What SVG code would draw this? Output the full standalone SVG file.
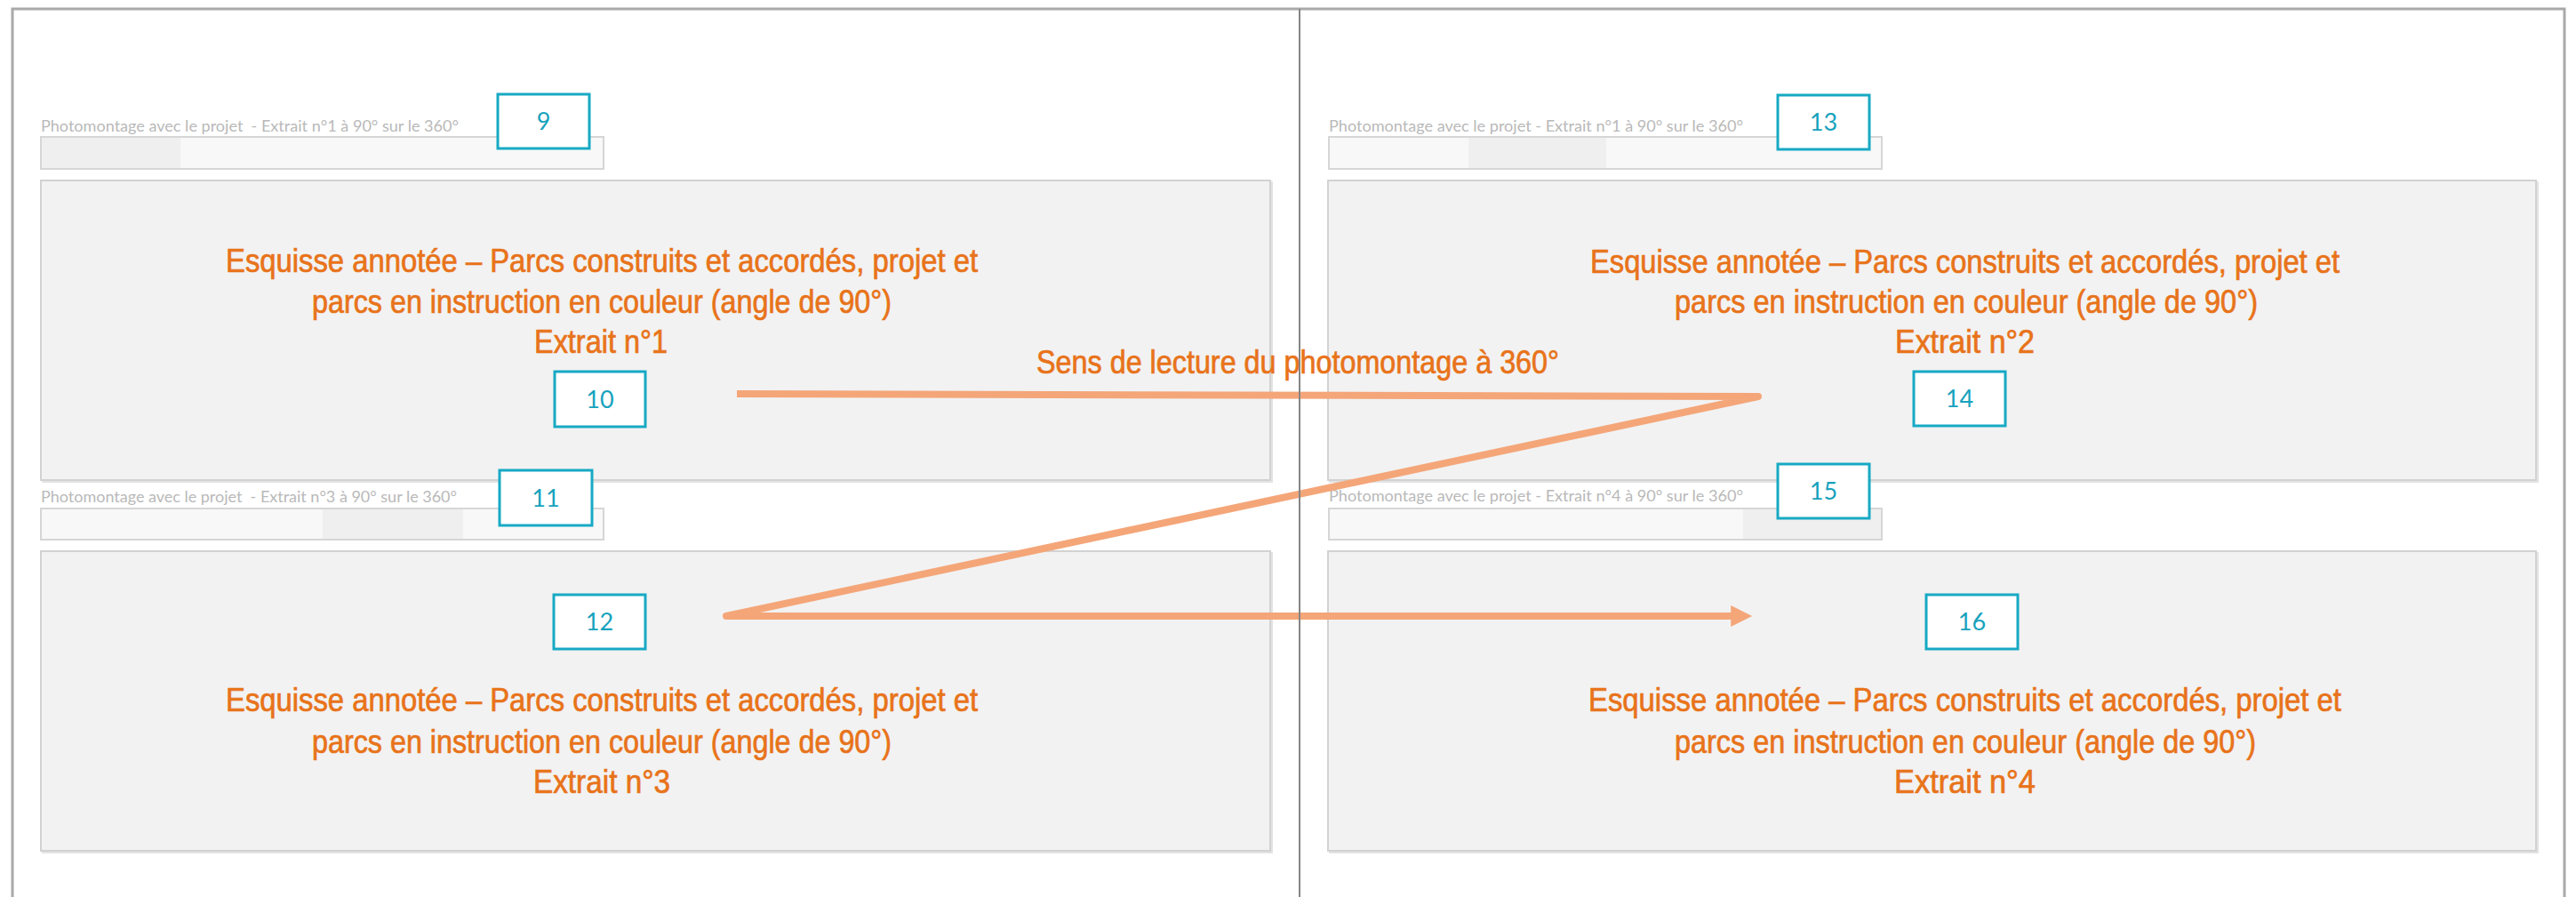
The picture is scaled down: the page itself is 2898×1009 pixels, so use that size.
<svg xmlns="http://www.w3.org/2000/svg" width="2898" height="1009" viewBox="0 0 2898 1009">
<defs>
<style>
.frame{stroke:#a9a9a9;stroke-width:3;fill:none}
.divider{stroke:#858585;stroke-width:2;fill:none}
.panel{fill:#f2f2f2;stroke:#d2d2d2;stroke-width:2}
.shadow{fill:none;stroke:#e3e3e3;stroke-width:2}
.bar{fill:#f8f8f8;stroke:#d6d6d6;stroke-width:2}
.barseg{fill:#efefef}
.lbl{font-family:Lato,"Liberation Sans",sans-serif;font-size:17px;fill:#b9b9b9}
.num{fill:#ffffff;stroke:#17a9c4;stroke-width:3}
.numt{font-family:Lato,"Liberation Sans",sans-serif;font-size:27px;fill:#17a2bd;text-anchor:middle}
.ot{font-family:"Liberation Sans",Arial,sans-serif;font-size:36px;fill:#e8731a;stroke:#e8731a;stroke-width:0.7}
.conn{stroke:#f4a679;stroke-width:8;fill:none;stroke-linejoin:round}
</style>
<marker id="ah" viewBox="0 0 10 10" refX="2" refY="5" markerWidth="3.6" markerHeight="3" orient="auto" markerUnits="strokeWidth">
<path d="M0,0 L10,5 L0,10 z" fill="#f4a679"/>
</marker>
</defs>
<rect width="2898" height="1009" fill="#ffffff"/>
<g id="frame">
<path class="frame" d="M14,1009 L14,10 L2885,10 L2885,1009"/>
</g>

<g id="extrait1">
<text class="lbl" x="46" y="148" textLength="470" lengthAdjust="spacingAndGlyphs">Photomontage avec le projet &#160;- Extrait n°1 à 90° sur le 360°</text>
<rect class="bar" x="46" y="154" width="633" height="36"/>
<rect class="barseg" x="47" y="155" width="156" height="34"/>
<rect class="shadow" x="48" y="205" width="1383" height="337"/>
<rect class="panel" x="46" y="203" width="1383" height="337"/>
<text class="ot" x="254" y="306" textLength="846" lengthAdjust="spacingAndGlyphs">Esquisse annotée – Parcs construits et accordés, projet et</text>
<text class="ot" x="351" y="352" textLength="652" lengthAdjust="spacingAndGlyphs">parcs en instruction en couleur (angle de 90°)</text>
<text class="ot" x="601" y="397" textLength="150" lengthAdjust="spacingAndGlyphs">Extrait n°1</text>
</g>

<g id="extrait2">
<text class="lbl" x="1495" y="148" textLength="466" lengthAdjust="spacingAndGlyphs">Photomontage avec le projet - Extrait n°1 à 90° sur le 360°</text>
<rect class="bar" x="1495" y="154" width="622" height="36"/>
<rect class="barseg" x="1652" y="155" width="155" height="34"/>
<rect class="shadow" x="1496" y="205" width="1359" height="337"/>
<rect class="panel" x="1494" y="203" width="1359" height="337"/>
<text class="ot" x="1789" y="307" textLength="843" lengthAdjust="spacingAndGlyphs">Esquisse annotée – Parcs construits et accordés, projet et</text>
<text class="ot" x="1884" y="352" textLength="656" lengthAdjust="spacingAndGlyphs">parcs en instruction en couleur (angle de 90°)</text>
<text class="ot" x="2132" y="397" textLength="157" lengthAdjust="spacingAndGlyphs">Extrait n°2</text>
</g>

<g id="extrait3">
<text class="lbl" x="46" y="565" textLength="468" lengthAdjust="spacingAndGlyphs">Photomontage avec le projet &#160;- Extrait n°3 à 90° sur le 360°</text>
<rect class="bar" x="46" y="572" width="633" height="35"/>
<rect class="barseg" x="363" y="573" width="158" height="33"/>
<rect class="shadow" x="48" y="622" width="1383" height="337"/>
<rect class="panel" x="46" y="620" width="1383" height="337"/>
<text class="ot" x="254" y="800" textLength="846" lengthAdjust="spacingAndGlyphs">Esquisse annotée – Parcs construits et accordés, projet et</text>
<text class="ot" x="351" y="847" textLength="652" lengthAdjust="spacingAndGlyphs">parcs en instruction en couleur (angle de 90°)</text>
<text class="ot" x="600" y="892" textLength="154" lengthAdjust="spacingAndGlyphs">Extrait n°3</text>
</g>

<g id="extrait4">
<text class="lbl" x="1495" y="564" textLength="466" lengthAdjust="spacingAndGlyphs">Photomontage avec le projet - Extrait n°4 à 90° sur le 360°</text>
<rect class="bar" x="1495" y="572" width="622" height="35"/>
<rect class="barseg" x="1961" y="573" width="155" height="33"/>
<rect class="shadow" x="1496" y="622" width="1359" height="337"/>
<rect class="panel" x="1494" y="620" width="1359" height="337"/>
<text class="ot" x="1787" y="800" textLength="847" lengthAdjust="spacingAndGlyphs">Esquisse annotée – Parcs construits et accordés, projet et</text>
<text class="ot" x="1884" y="847" textLength="654" lengthAdjust="spacingAndGlyphs">parcs en instruction en couleur (angle de 90°)</text>
<text class="ot" x="2131" y="892" textLength="159" lengthAdjust="spacingAndGlyphs">Extrait n°4</text>
</g>

<g id="connectors">
<path class="conn" d="M829,443 L1978,446 L817,693 L1952,693" marker-end="url(#ah)"/>
<text id="sens" class="ot" x="1166" y="420" textLength="588" lengthAdjust="spacingAndGlyphs">Sens de lecture du photomontage à 360°</text>
</g>

<g id="divider">
<line class="divider" x1="1462" y1="10" x2="1462" y2="1009"/>
</g>

<g id="n9"><rect class="num" x="560" y="106" width="103" height="61"/><text class="numt" x="611.5" y="146">9</text></g>
<g id="n10"><rect class="num" x="624" y="418" width="102" height="62"/><text class="numt" x="675" y="459">10</text></g>
<g id="n11"><rect class="num" x="562" y="529" width="104" height="62"/><text class="numt" x="614" y="570">11</text></g>
<g id="n12"><rect class="num" x="623" y="669" width="103" height="61"/><text class="numt" x="674.5" y="709">12</text></g>
<g id="n13"><rect class="num" x="2000" y="107" width="103" height="61"/><text class="numt" x="2051.5" y="147">13</text></g>
<g id="n14"><rect class="num" x="2153" y="418" width="103" height="61"/><text class="numt" x="2204.5" y="458">14</text></g>
<g id="n15"><rect class="num" x="2000" y="522" width="103" height="61"/><text class="numt" x="2051.5" y="562">15</text></g>
<g id="n16"><rect class="num" x="2167" y="669" width="103" height="61"/><text class="numt" x="2218.5" y="709">16</text></g>
</svg>
